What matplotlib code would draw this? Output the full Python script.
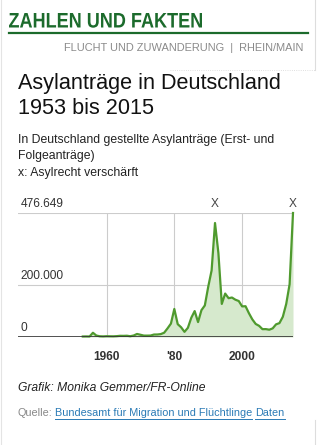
import matplotlib
matplotlib.use('Agg')
import matplotlib.pyplot as plt
from matplotlib.textpath import TextPath
from matplotlib.patches import PathPatch
from matplotlib.font_manager import FontProperties
from matplotlib.transforms import Affine2D
import numpy as np

# Asylanträge (Erst- und Folgeanträge), BAMF
years = np.arange(1953, 2016)
antraege = [1906, 2174, 1926, 16284, 5622, 2785, 2267, 2980, 2722, 2550,
            3238, 4542, 4337, 4868, 2992, 5608, 11664, 8645, 5388, 5289,
            5595, 9424, 9627, 11123, 16410, 33136, 51493, 107818, 49391, 37423,
            19737, 35278, 73832, 99650, 57379, 103076, 121318, 193063, 256112, 438191,
            322599, 127210, 166951, 149193, 151700, 143429, 138319, 117648, 118306, 91471,
            67848, 50152, 42908, 30100, 30303, 28018, 33033, 48589, 53347, 77651,
            127023, 202834, 476649]
marked_years = [1992, 2015]
ytick_vals = [0, 200000, 476649]
ytick_labels = ['0', '200.000', '476.649']
xtick_vals = [1960, 1980, 2000]
xtick_labels = ['1960', "'80", '2000']
link_texts = ['Bundesamt für Migration und Flüchtlinge', 'Daten']

plt.rcParams['font.family'] = ['Liberation Sans', 'DejaVu Sans']

W, H = 328, 445
fig = plt.figure(figsize=(W / 100, H / 100), dpi=100)
fig.patch.set_facecolor('white')

def px(x, y):
    return x / W, 1 - y / H

green_dark = '#1c6b2c'
line_green = '#4f9a2e'
link_blue = '#2a7ab5'

# header, condensed look: squeeze a bold text path horizontally
tp = TextPath((0, 0), 'ZAHLEN UND FAKTEN', size=100,
              prop=FontProperties(family='Liberation Sans', weight='bold'))
bb = tp.get_extents()
tr = Affine2D().translate(-bb.x0, 0).scale(193 / bb.width, 14.5 / bb.y1).translate(9, H - 27.5)
fig.add_artist(PathPatch(tr.transform_path(tp), transform=None, color=green_dark, lw=0))
fig.add_artist(plt.Line2D([9 / W, 308 / W], [1 - 33 / H] * 2, color=green_dark, lw=1.6))
fig.text(*px(303, 48), 'FLUCHT UND ZUWANDERUNG  |  RHEIN/MAIN', fontsize=7.9,
         color='#8a8a8a', va='center', ha='right')
fig.add_artist(plt.Line2D([170 / W, 315 / W], [1 - 70 / H] * 2, color='#d5d5d5',
                          lw=0.6, ls=':'))
fig.add_artist(plt.Line2D([315 / W] * 2, [1, 1 - 70 / H], color='#dddddd', lw=0.8))
fig.add_artist(plt.Line2D([315 / W] * 2, [1 - 420 / H, 0], color='#dddddd', lw=0.8))
fig.add_artist(plt.Line2D([1 / W] * 2, [1, 0], color='#e4e4e4', lw=0.8))

# title
fig.text(*px(18, 83), 'Asylanträge in Deutschland', fontsize=15.6, color='#111111',
         va='center', ha='left')
fig.text(*px(18, 108), '1953 bis 2015', fontsize=15.6, color='#111111',
         va='center', ha='left')
fig.text(*px(18, 140), 'In Deutschland gestellte Asylanträge (Erst- und', fontsize=8.8,
         color='#222222', va='center', ha='left')
fig.text(*px(18, 156), 'Folgeanträge)', fontsize=8.8, color='#222222', va='center', ha='left')
fig.text(*px(18, 173), 'x: Asylrecht verschärft', fontsize=8.8, color='#222222',
         va='center', ha='left')

# chart
ax = fig.add_axes([18 / W, 108 / H, 275 / W, 124 / H])
ax.set_xlim(1933.9, 2015)
ax.set_ylim(0, 476649)
ax.fill_between(years, antraege, 0, color='#d6e9cd', lw=0, clip_on=False)
ax.plot(years, antraege, color=line_green, lw=1.6, clip_on=False, zorder=3)
for v in ytick_vals[1:]:
    ax.axhline(v, color='#cccccc', lw=0.8, zorder=0)
for v in xtick_vals:
    ax.axvline(v, color='#cccccc', lw=0.8, zorder=0)
ax.axhline(0, color='#333333', lw=1.2, zorder=4)
for v, lab in zip(ytick_vals, ytick_labels):
    ax.annotate(lab, (0, v), xycoords=('axes fraction', 'data'), xytext=(2, 4.3),
                textcoords='offset points', fontsize=8.6, color='#333333',
                ha='left', va='baseline')
for yr in marked_years:
    ax.annotate('X', (yr, 476649), xycoords='data', xytext=(0, 4.3),
                textcoords='offset points', fontsize=8.6, color='#444444',
                ha='center', va='baseline')
ax.set_xticks(xtick_vals)
ax.set_xticklabels(xtick_labels, fontsize=8.6, fontweight='bold', color='#333333')
ax.tick_params(axis='x', length=0, pad=10)
ax.set_yticks([])
for s in ax.spines.values():
    s.set_visible(False)

# footer
fig.text(*px(18, 388), 'Grafik: Monika Gemmer/FR-Online', fontsize=8.7, style='italic',
         color='#222222', va='center', ha='left')
fig.text(*px(18, 413), 'Quelle:', fontsize=7.8, color='#888888', va='center', ha='left')
renderer = fig.canvas.get_renderer()
x0 = 55
for s in link_texts:
    t = fig.text(*px(x0, 413), s, fontsize=7.8, color=link_blue, va='center', ha='left')
    ext = t.get_window_extent(renderer)
    fig.add_artist(plt.Line2D([ext.x0 / W, ext.x1 / W], [1 - 419 / H] * 2,
                              color=link_blue, lw=0.7))
    x0 = ext.x1 + 3

fig.savefig('out.png', dpi=100, facecolor='white')
